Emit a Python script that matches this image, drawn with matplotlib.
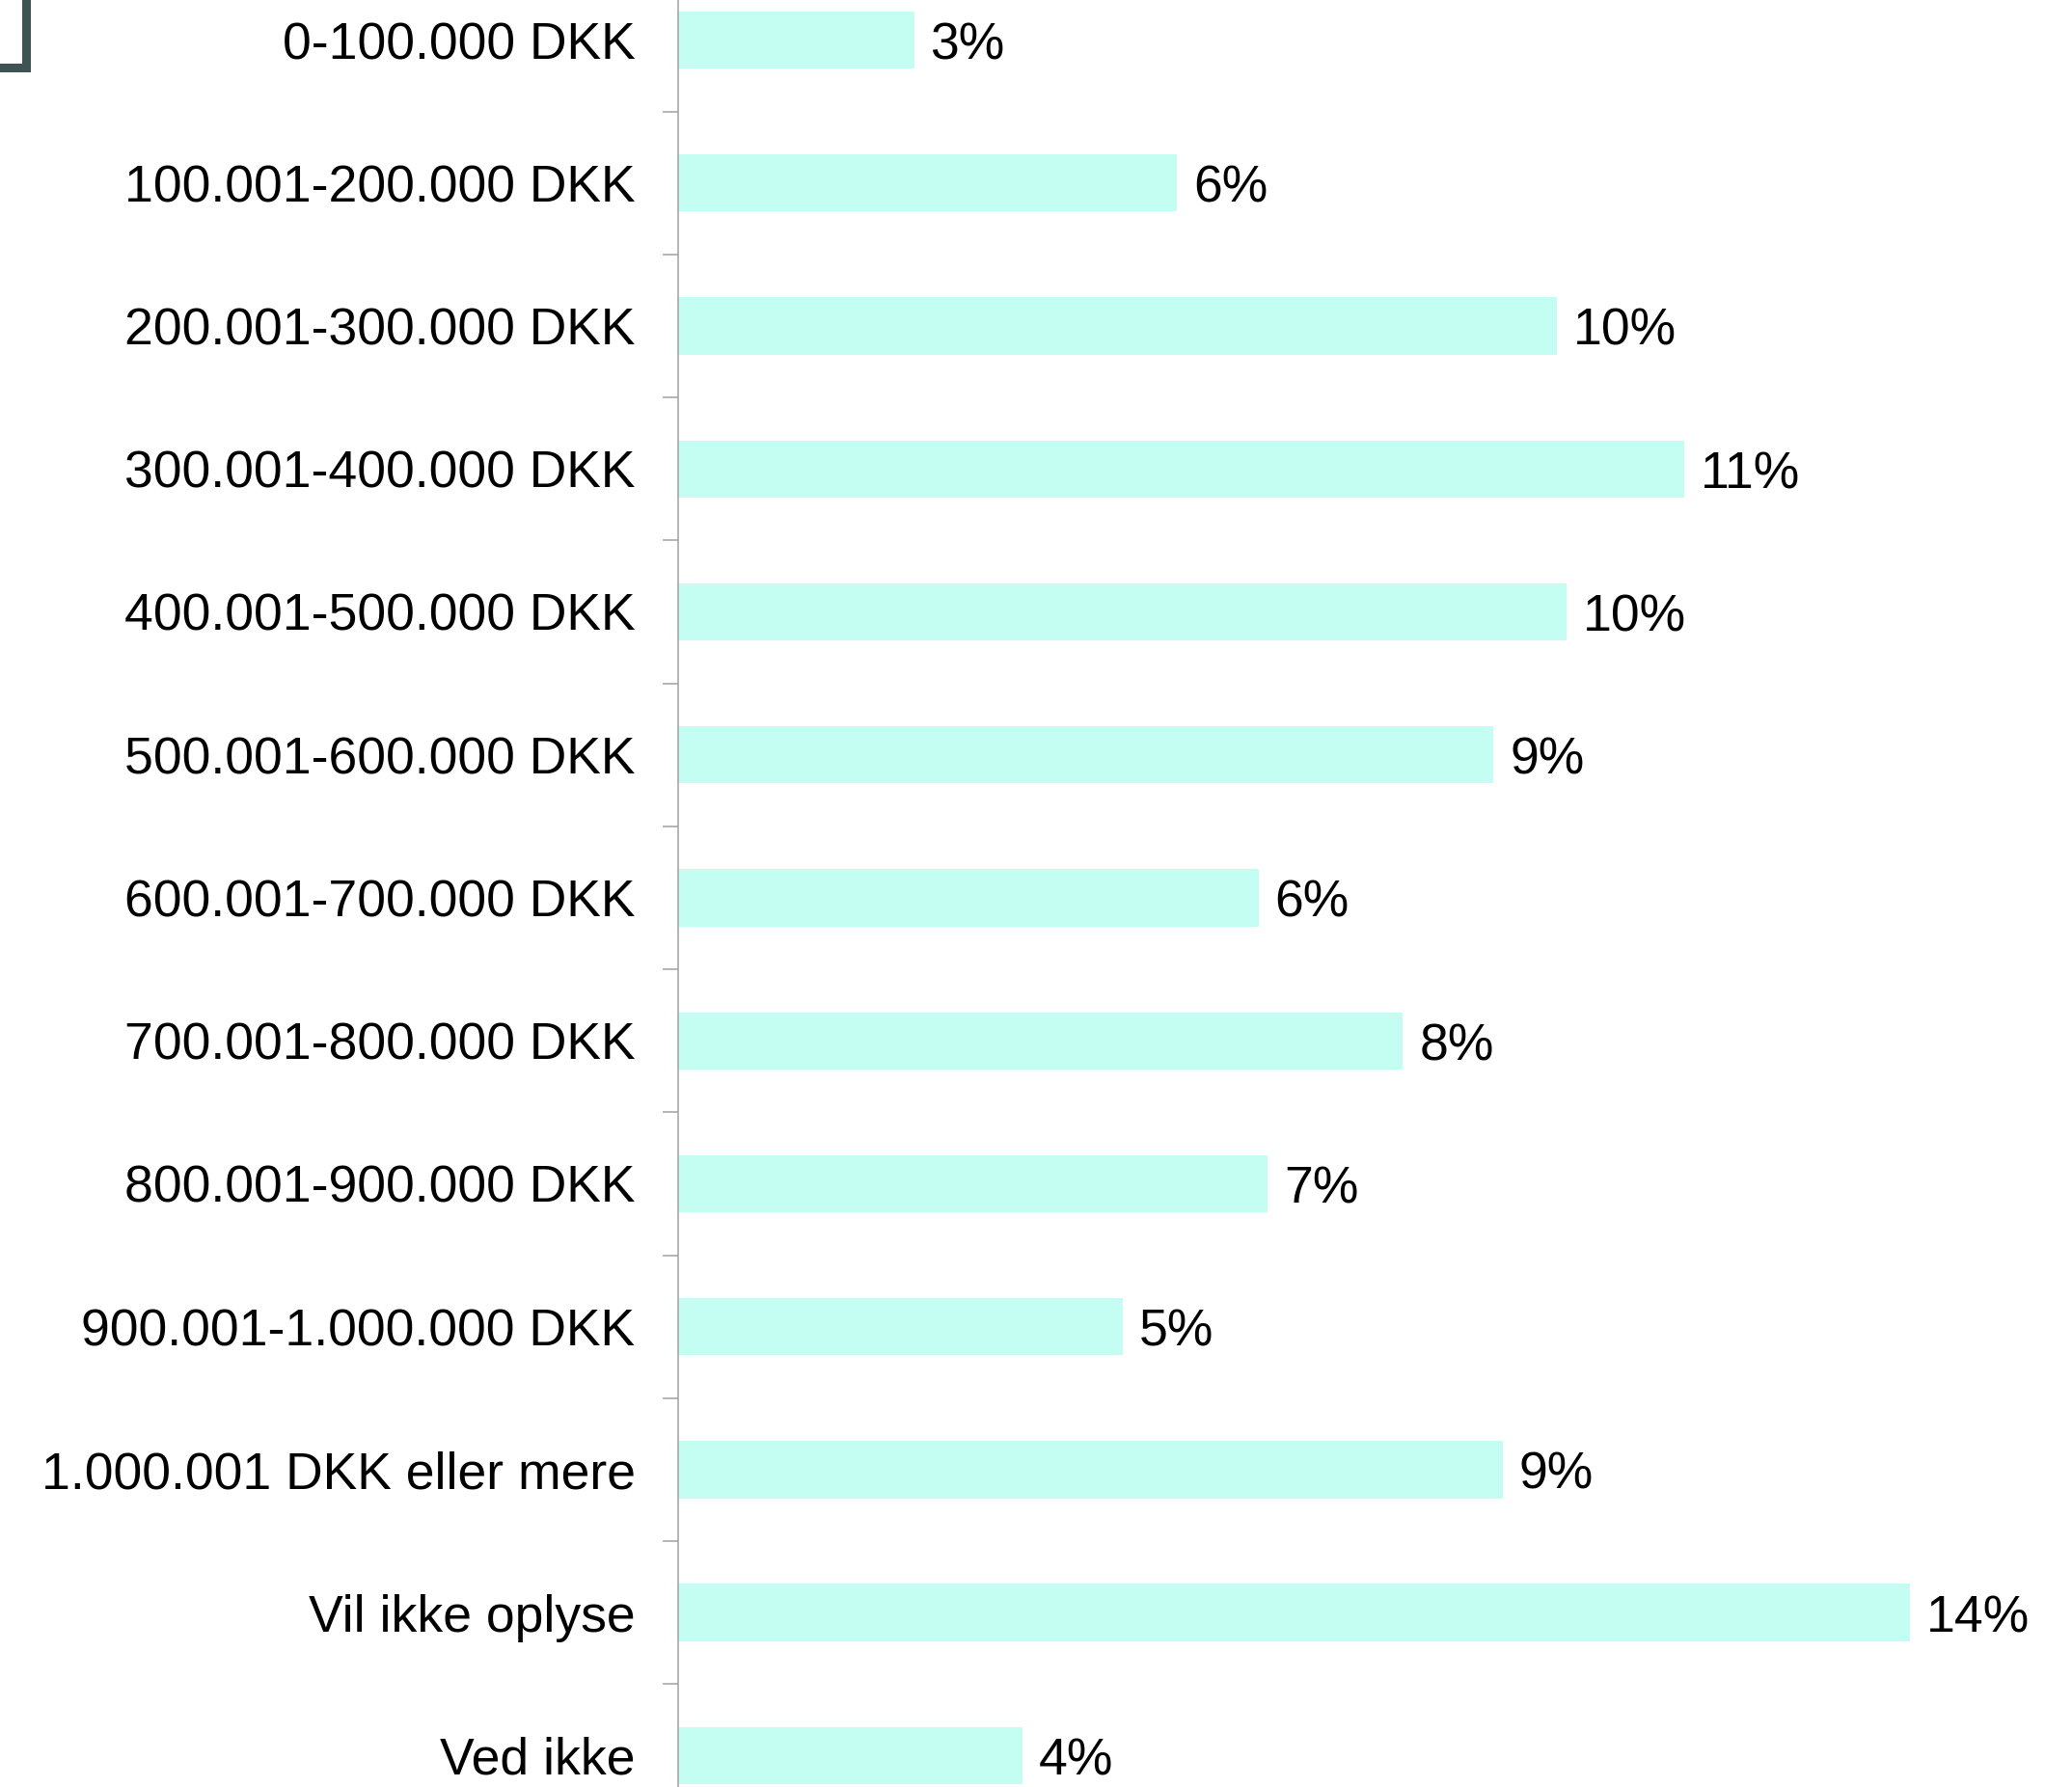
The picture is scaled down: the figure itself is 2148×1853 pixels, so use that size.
import matplotlib
matplotlib.use("Agg")
import matplotlib.pyplot as plt
from matplotlib.patches import Rectangle

#---------------------------------------------------
#  Data
#---------------------------------------------------
categories = ["0-100.000 DKK", "100.001-200.000 DKK", "200.001-300.000 DKK",
              "300.001-400.000 DKK", "400.001-500.000 DKK", "500.001-600.000 DKK",
              "600.001-700.000 DKK", "700.001-800.000 DKK", "800.001-900.000 DKK",
              "900.001-1.000.000 DKK", "1.000.001 DKK eller mere",
              "Vil ikke oplyse", "Ved ikke"]
shares = [2.63, 5.56, 9.80, 11.22, 9.90, 9.09, 6.47, 8.08, 6.57, 4.96, 9.19, 13.73, 3.84]

bar_color = "#C4FEF2"
axis_gray = "#A0A0A0"

#---------------------------------------------------
#  Graph
#---------------------------------------------------
plt.rcParams['font.family'] = ['Liberation Sans', 'DejaVu Sans']

W, H, dpi = 2148, 1853, 100
fig = plt.figure(figsize=(W / dpi, H / dpi), dpi=dpi)
ax = fig.add_axes([703 / W, 0, 1 - 703 / W, 1])

pos = list(range(len(categories)))
ax.barh(pos, shares, height=0.40, color=bar_color, edgecolor='none')

# percentage labels sit a touch below the bar centre
for y, v in zip(pos, shares):
    ax.text(v + 0.18, y + 0.04, f"{v:.0f}%", va='center', ha='left', fontsize=38.5)

ax.set_xlim(0, 1445 / 93.0)
ax.set_ylim(12.22, -0.28)

ax.set_yticks(pos)
ax.set_yticklabels(categories, fontsize=38.5)
ax.tick_params(axis='y', which='major', length=0, pad=32)
ax.set_yticks([p + 0.5 for p in pos[:-1]], minor=True)
ax.tick_params(axis='y', which='minor', length=11.5, width=1.1, color=axis_gray)
ax.set_xticks([])

for side in ['top', 'right', 'bottom']:
    ax.spines[side].set_visible(False)
ax.spines['left'].set_color(axis_gray)
ax.spines['left'].set_linewidth(1.1)

# dark bracket in the top left corner
bracket = "#3E5453"
fig.add_artist(Rectangle((22.7 / W, 1 - 75 / H), 9.6 / W, 75 / H,
                         transform=fig.transFigure, color=bracket, lw=0))
fig.add_artist(Rectangle((0, 1 - 75 / H), 32.3 / W, 9.4 / H,
                         transform=fig.transFigure, color=bracket, lw=0))

fig.savefig("out.png", dpi=dpi)
